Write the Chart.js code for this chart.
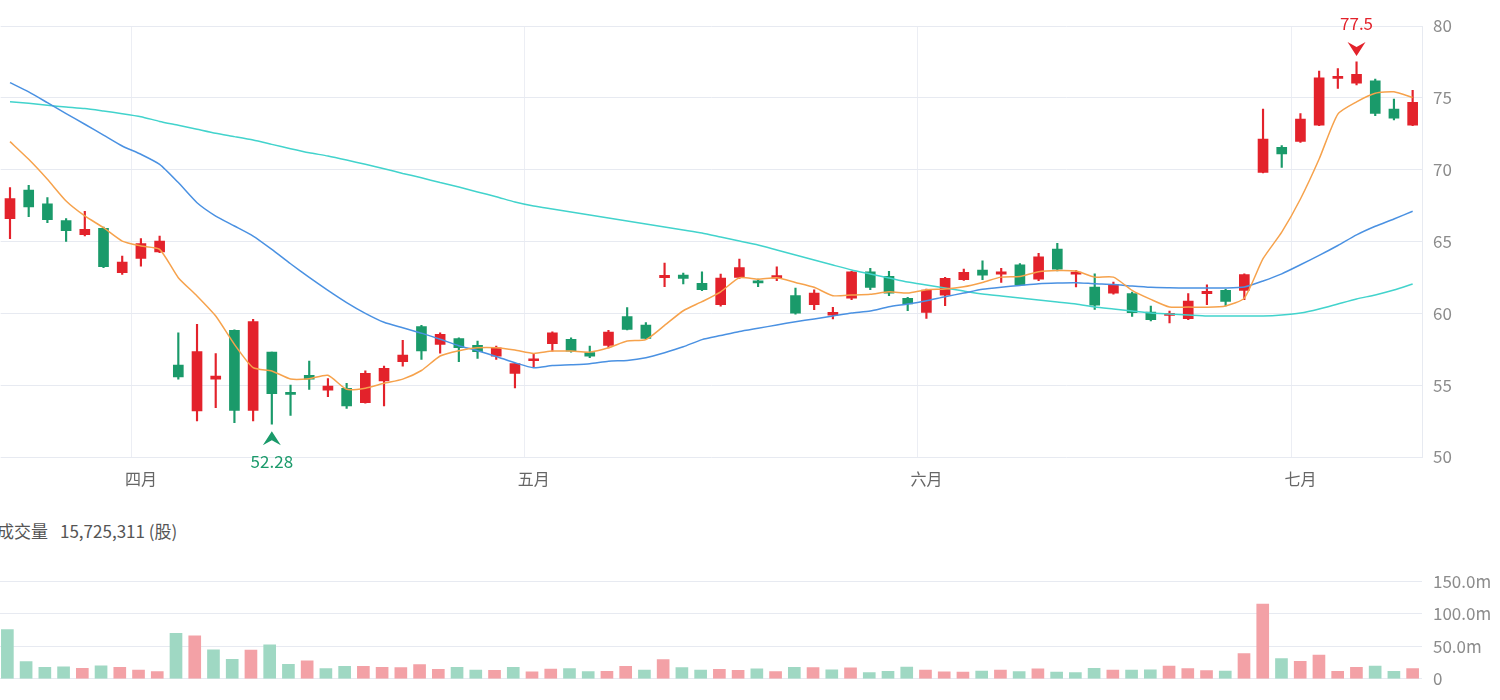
<!DOCTYPE html>
<html>
<head>
<meta charset="utf-8">
<script src="https://cdn.jsdelivr.net/npm/chart.js@4"></script>
<style>
    html, body { margin: 0; padding: 0; background: #fff; overflow: hidden; }
    #wrap { position: relative; width: 1500px; height: 700px; }
    #priceChart { position: absolute; left: -2px; top: 0; }
    #volChart { position: absolute; left: -2px; top: 560px; }
    #volTitle {
        position: absolute; left: -3px; top: 518px; white-space: nowrap;
        font: 17px "Noto Sans CJK SC", "Noto Sans", sans-serif; color: #555;
    }
    #volTitle span { margin-left: 12px; }
</style>
</head>
<body>
<div id="wrap">
    <canvas id="priceChart" width="1502" height="500"></canvas>
    <div id="volTitle">成交量<span id="volValue"></span></div>
    <canvas id="volChart" width="1502" height="140"></canvas>
</div>
<script>
// Daily OHLC (76 trading days)
const opens = [66.59, 68.58, 67.63, 66.45, 65.48, 65.92, 62.83, 63.83, 64.27, 56.40,
    53.20, 55.41, 58.82, 53.25, 57.31, 54.48, 55.68, 54.66, 54.78, 53.78,
    55.29, 56.64, 59.07, 57.84, 58.24, 57.77, 57.02, 55.81, 56.70, 57.88,
    58.19, 57.26, 57.77, 59.77, 59.19, 62.49, 62.66, 62.08, 60.60, 62.50,
    62.27, 62.45, 61.23, 60.60, 59.88, 61.06, 62.89, 62.57, 61.04, 60.07,
    61.27, 62.34, 63.01, 62.73, 63.38, 62.38, 64.47, 62.73, 61.83, 61.41,
    61.37, 60.09, 59.86, 59.63, 61.37, 61.60, 61.60, 69.81, 71.55, 71.97,
    73.10, 76.35, 76.02, 76.18, 74.21, 73.10];
const highs = [68.75, 68.91, 68.05, 66.59, 67.10, 66.00, 63.99, 65.20, 65.38, 58.65,
    59.23, 57.19, 58.85, 59.58, 57.31, 55.01, 56.68, 55.45, 55.13, 55.99,
    56.33, 58.12, 59.16, 58.65, 58.30, 58.07, 57.72, 56.51, 57.21, 58.72,
    58.30, 57.72, 58.81, 60.40, 59.35, 63.49, 62.80, 62.89, 62.73, 63.77,
    62.38, 63.24, 61.76, 61.64, 60.42, 62.92, 63.13, 62.92, 61.11, 61.69,
    62.50, 63.08, 63.66, 63.13, 63.47, 64.17, 64.88, 62.99, 62.75, 62.18,
    61.48, 60.51, 60.16, 61.37, 61.99, 61.67, 62.75, 74.21, 71.67, 73.91,
    76.87, 77.04, 77.5, 76.30, 74.91, 75.53];
const lows = [65.20, 66.73, 66.31, 65.01, 65.38, 63.18, 62.71, 63.29, 64.22, 55.41,
    52.51, 53.43, 52.39, 52.51, 52.28, 52.90, 54.71, 54.20, 53.39, 53.74,
    53.55, 56.33, 56.80, 57.22, 56.64, 56.87, 56.79, 54.81, 56.28, 57.37,
    57.30, 56.91, 57.60, 58.84, 58.19, 61.86, 62.04, 61.57, 60.49, 62.43,
    61.85, 62.27, 59.95, 60.25, 59.61, 60.95, 61.64, 61.23, 60.19, 59.65,
    60.53, 62.29, 62.34, 62.15, 61.92, 62.27, 62.96, 61.83, 60.28, 61.34,
    59.79, 59.47, 59.33, 59.56, 60.60, 60.51, 60.95, 69.77, 70.16, 71.90,
    73.06, 75.65, 75.90, 73.75, 73.47, 73.06];
const closes = [67.98, 67.40, 66.52, 65.75, 65.85, 63.25, 63.57, 64.85, 65.03, 55.57,
    57.33, 55.64, 53.25, 59.42, 54.41, 54.36, 55.41, 54.94, 53.55, 55.82,
    56.17, 57.10, 57.38, 58.54, 57.61, 57.33, 57.60, 56.51, 56.84, 58.65,
    57.37, 57.02, 58.70, 58.88, 58.26, 62.65, 62.43, 61.64, 62.45, 63.19,
    62.11, 62.62, 60.02, 61.41, 60.07, 62.89, 61.81, 61.41, 60.65, 61.62,
    62.43, 62.85, 62.66, 62.89, 61.97, 63.94, 63.08, 62.87, 60.56, 62.01,
    60.05, 59.56, 59.98, 60.86, 61.53, 60.83, 62.69, 72.13, 71.09, 73.52,
    76.40, 76.50, 76.64, 73.91, 73.59, 74.68];

// Volume in millions of shares
const volumes = [75.5, 26.4, 17.6, 18.5, 16.2, 19.9, 17.6, 13.4, 11.1, 69.9,
    66.2, 44.4, 30.1, 44.0, 52.3, 22.2, 27.8, 15.7, 19.0, 19.0,
    17.6, 17.1, 21.8, 14.4, 17.6, 13.4, 13.0, 17.6, 10.6, 14.8,
    15.7, 11.1, 11.6, 19.0, 13.4, 29.6, 17.1, 13.4, 14.4, 13.0,
    15.3, 11.1, 17.6, 17.1, 13.9, 16.7, 9.7, 11.6, 18.1, 13.4,
    10.6, 10.2, 12.0, 13.4, 11.1, 15.3, 10.2, 9.7, 16.2, 13.4,
    13.4, 13.9, 19.4, 15.7, 12.5, 12.0, 38.9, 114.8, 31.0, 26.9,
    36.6, 11.6, 17.6, 19.4, 11.6, 15.725311];

// Moving averages as drawn
const ma5 = [71.95, 70.72, 69.33, 67.82, 66.78, 65.96, 65.03, 64.69, 64.45, 62.48,
    61.21, 59.81, 57.84, 56.22, 55.99, 55.43, 55.45, 55.69, 54.71, 54.79,
    55.13, 55.42, 56.02, 57.03, 57.40, 57.60, 57.60, 57.44, 57.21, 57.37,
    57.37, 57.30, 57.60, 58.07, 58.17, 59.16, 60.18, 60.81, 61.50, 62.48,
    62.38, 62.48, 62.15, 61.81, 61.23, 61.27, 61.32, 61.50, 61.41, 61.64,
    61.69, 61.85, 62.15, 62.52, 62.57, 62.90, 62.98, 62.94, 62.52, 62.52,
    61.60, 60.97, 60.44, 60.44, 60.42, 60.51, 61.06, 63.80, 65.65, 67.96,
    70.74, 73.87, 74.72, 75.32, 75.42, 75.02];
const ma20 = [76.06, 75.41, 74.66, 73.90, 73.16, 72.41, 71.65, 71.07, 70.37, 69.10,
    67.70, 66.77, 66.08, 65.38, 64.45, 63.45, 62.50, 61.60, 60.75, 60.00,
    59.38, 59.00, 58.62, 58.20, 57.75, 57.40, 57.00, 56.56, 56.21, 56.37,
    56.42, 56.49, 56.67, 56.72, 56.91, 57.26, 57.67, 58.17, 58.45, 58.73,
    58.96, 59.19, 59.42, 59.61, 59.81, 60.02, 60.16, 60.46, 60.65, 60.88,
    61.16, 61.41, 61.67, 61.82, 61.94, 62.06, 62.11, 62.13, 62.06, 62.01,
    61.90, 61.81, 61.78, 61.76, 61.76, 61.76, 61.83, 62.25, 62.75, 63.38,
    64.03, 64.72, 65.46, 66.06, 66.57, 67.11];
const ma60 = [74.73, 74.62, 74.48, 74.36, 74.25, 74.08, 73.90, 73.69, 73.36, 73.09,
    72.81, 72.53, 72.30, 72.06, 71.76, 71.46, 71.18, 70.95, 70.67, 70.37,
    70.07, 69.74, 69.44, 69.10, 68.79, 68.45, 68.12, 67.75, 67.47, 67.26,
    67.05, 66.84, 66.64, 66.43, 66.22, 66.01, 65.80, 65.59, 65.31, 65.03,
    64.76, 64.41, 64.06, 63.71, 63.36, 63.02, 62.74, 62.46, 62.18, 61.97,
    61.76, 61.55, 61.35, 61.21, 61.07, 60.93, 60.79, 60.65, 60.44, 60.30,
    60.16, 60.02, 59.95, 59.88, 59.81, 59.81, 59.81, 59.81, 59.88, 60.02,
    60.30, 60.65, 61.00, 61.28, 61.62, 62.04];

// Month ticks: label + index of first trading day
const monthLabels = ['四月', '五月', '六月', '七月'];
const monthStart = [7, 28, 49, 69];

const FONT = '"Noto Sans CJK SC", "Noto Sans", sans-serif';
const UP = '#e3222b';
const DOWN = '#1a9a6a';
const UP_VOL = '#f3a1a6';
const DOWN_VOL = '#9fd8c3';
const GRID = '#e7eaf1';

const labels = opens.map((_, i) => i);
const candleColors = closes.map((c, i) => c >= opens[i] ? UP : DOWN);
const volColors = closes.map((c, i) => (i > 0 && c >= closes[i - 1]) ? UP_VOL : DOWN_VOL);

document.getElementById('volValue').textContent =
    Math.round(volumes[volumes.length - 1] * 1e6).toLocaleString('en-US') + ' (股)';

// Arrow + value for the period high / low
const drawMarker = (ctx, cx, tip, dir, color, text, textGap) => {
    ctx.save();
    ctx.fillStyle = color;
    ctx.beginPath();
    ctx.moveTo(cx, tip);
    ctx.lineTo(cx - 9, tip - dir * 14);
    ctx.lineTo(cx, tip - dir * 9);
    ctx.lineTo(cx + 9, tip - dir * 14);
    ctx.closePath();
    ctx.fill();
    ctx.font = '17px ' + FONT;
    ctx.textAlign = 'center';
    ctx.textBaseline = 'middle';
    ctx.fillText(text, cx, tip - dir * textGap);
    ctx.restore();
};

const extremes = {
    id: 'extremes',
    afterDatasetsDraw(chart) {
        const { ctx, scales: { x, y } } = chart;
        const hi = highs.indexOf(Math.max(...highs));
        const lo = lows.indexOf(Math.min(...lows));
        drawMarker(ctx, x.getPixelForValue(hi), y.getPixelForValue(highs[hi]) - 6, 1, UP, String(highs[hi]), 32);
        drawMarker(ctx, x.getPixelForValue(lo), y.getPixelForValue(lows[lo]) + 7, -1, DOWN, String(lows[lo]), 30);
    }
};

const maLine = (data, color) => ({
    type: 'line', data, borderColor: color, borderWidth: 1.5,
    pointRadius: 0, fill: false, tension: 0.2, order: 0
});

new Chart(document.getElementById('priceChart'), {
    data: {
        labels,
        datasets: [
            maLine(ma5, '#f6a24c'),
            maLine(ma20, '#4a91e2'),
            maLine(ma60, '#42d3cc'),
            {
                type: 'bar',
                data: opens.map((o, i) => [Math.min(o, closes[i]), Math.max(o, closes[i])]),
                backgroundColor: candleColors, barThickness: 10, minBarLength: 2,
                grouped: false, order: 1
            },
            {
                type: 'bar',
                data: lows.map((l, i) => [l, highs[i]]),
                backgroundColor: candleColors, barThickness: 1.5,
                grouped: false, order: 2
            }
        ]
    },
    options: {
        responsive: false,
        animation: false,
        layout: { padding: { top: 26, left: 0, right: 0, bottom: 0 } },
        plugins: { legend: { display: false }, tooltip: { enabled: false } },
        scales: {
            x: {
                offset: true,
                grid: {
                    offset: true, drawTicks: false,
                    color: c => monthStart.includes(c.index) ? '#eceef4' : 'rgba(0,0,0,0)'
                },
                border: { display: false },
                ticks: {
                    autoSkip: false, maxRotation: 0, padding: 12, color: '#666',
                    font: { family: FONT, size: 16 },
                    callback: (v, i) => {
                        const k = monthStart.indexOf(i);
                        return k >= 0 ? monthLabels[k] : '';
                    }
                },
                afterFit: s => { s.height = 43; }
            },
            y: {
                position: 'right', min: 50, max: 80,
                ticks: { stepSize: 5, padding: 11, color: '#8c8c8c', font: { family: FONT, size: 17 } },
                grid: { color: GRID, drawTicks: false },
                border: { display: true, color: GRID },
                afterFit: s => { s.width = 78; }
            }
        }
    },
    plugins: [extremes]
});

new Chart(document.getElementById('volChart'), {
    type: 'bar',
    data: {
        labels,
        datasets: [{ data: volumes, backgroundColor: volColors, barThickness: 12, borderWidth: 0 }]
    },
    options: {
        responsive: false,
        animation: false,
        layout: { padding: { top: 19, bottom: 15, left: 0, right: 0 } },
        plugins: { legend: { display: false }, tooltip: { enabled: false } },
        scales: {
            x: { offset: true, display: false },
            y: {
                position: 'right', min: 0, max: 150,
                ticks: {
                    stepSize: 50, padding: 11, color: '#8c8c8c', font: { family: FONT, size: 17 },
                    callback: v => v === 0 ? '0' : v.toFixed(1) + 'm'
                },
                grid: { color: GRID, drawTicks: false },
                border: { display: false },
                afterFit: s => { s.width = 78; }
            }
        }
    }
});
</script>
</body>
</html>
